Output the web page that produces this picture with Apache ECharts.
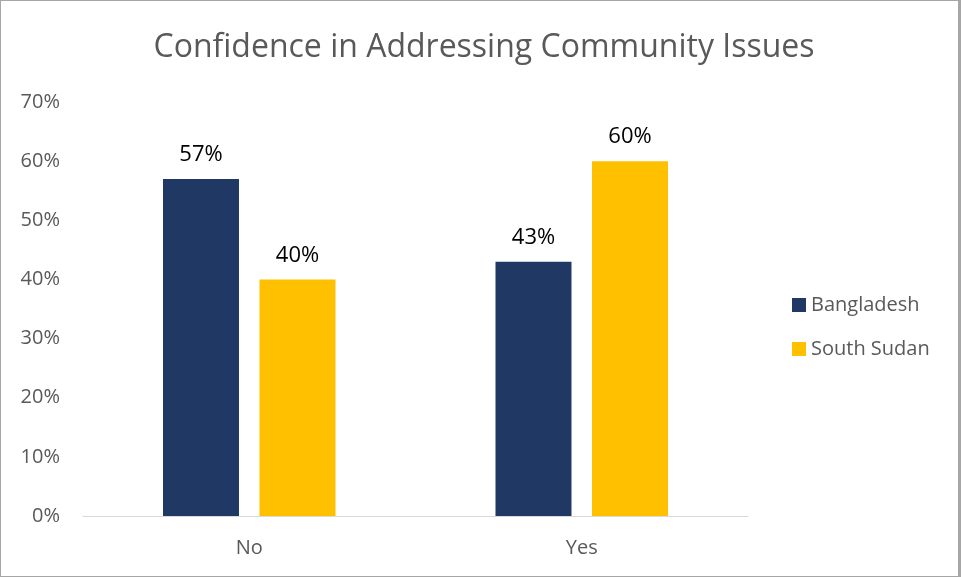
<!DOCTYPE html>
<html>
<head>
<meta charset="utf-8">
<script src="https://cdn.jsdelivr.net/npm/echarts@6/dist/echarts.min.js"></script>
<style>
  html, body { margin: 0; padding: 0; background: #fff; }
  #chart { width: 961px; height: 577px; box-sizing: border-box; border: 1px solid #a6a6a6; border-right-width: 3px; }
</style>
</head>
<body>
<div id="chart"></div>
<script>
const categories = ['No', 'Yes'];
const bangladesh = [57, 43];
const southSudan = [40, 60];
const yTicks = [0, 10, 20, 30, 40, 50, 60, 70];

const chart = echarts.init(document.getElementById('chart'));
const fontFamily = '"Open Sans", "Noto Sans", sans-serif';

chart.setOption({
  animation: false,
  title: {
    text: 'Confidence in Addressing Community Issues',
    left: 478, top: 26, textAlign: 'center',
    textStyle: { fontFamily, fontWeight: 'normal', fontSize: 32, color: '#595959' }
  },
  legend: {
    orient: 'vertical',
    left: 786, top: 289,
    itemWidth: 14, itemHeight: 14, itemGap: 24,
    icon: 'rect',
    textStyle: { fontFamily, fontSize: 20, color: '#595959' },
    data: ['Bangladesh', 'South Sudan']
  },
  grid: { left: 82, right: 210, top: 101, bottom: 60 },
  xAxis: {
    type: 'category',
    data: categories,
    axisLine: { lineStyle: { color: '#d9d9d9', width: 1 } },
    axisTick: { show: false },
    axisLabel: { fontFamily, fontSize: 20, color: '#595959', margin: 22 }
  },
  yAxis: {
    type: 'value',
    min: yTicks[0], max: yTicks[yTicks.length - 1], interval: 10,
    axisLine: { show: false },
    axisTick: { show: false },
    splitLine: { show: false },
    axisLabel: { fontFamily, fontSize: 20, color: '#595959', margin: 23, formatter: v => v + '%' }
  },
  series: [
    {
      name: 'Bangladesh', type: 'bar', data: bangladesh,
      barWidth: 76, barGap: '27%',
      itemStyle: { color: '#1F3864' },
      label: { show: true, position: 'top', distance: 13, fontFamily, fontSize: 22, color: '#000', formatter: p => p.value + '%' }
    },
    {
      name: 'South Sudan', type: 'bar', data: southSudan,
      barWidth: 76,
      itemStyle: { color: '#FFC000' },
      label: { show: true, position: 'top', distance: 13, fontFamily, fontSize: 22, color: '#000', formatter: p => p.value + '%' }
    }
  ]
});
</script>
</body>
</html>
